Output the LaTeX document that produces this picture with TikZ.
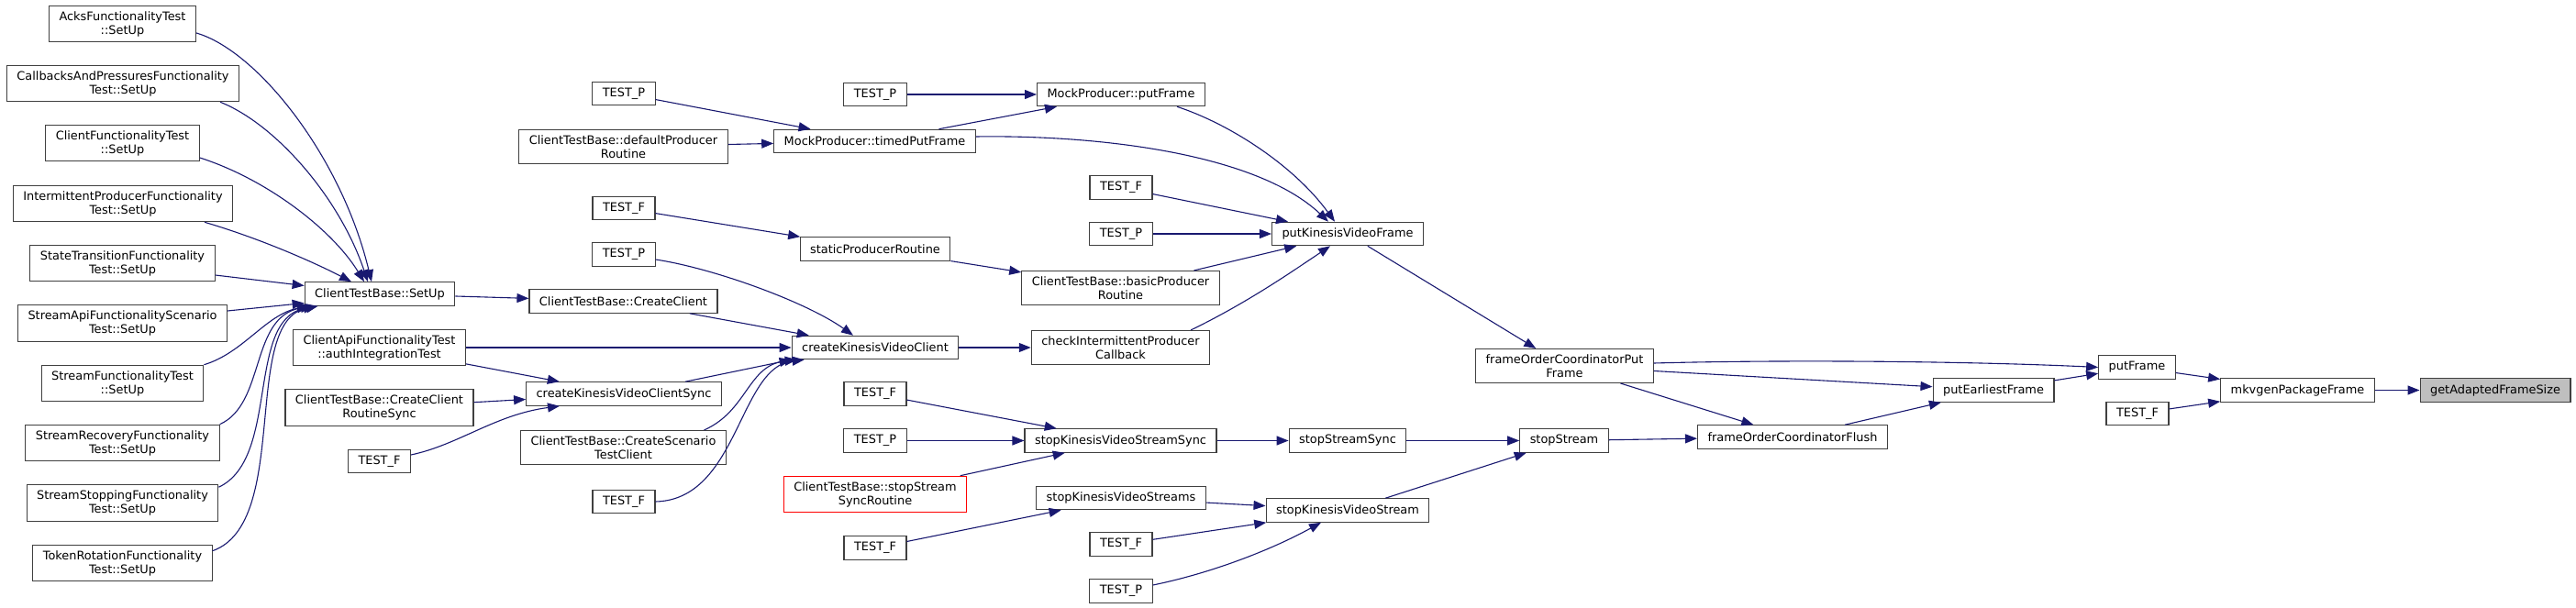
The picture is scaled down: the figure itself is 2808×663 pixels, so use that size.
\documentclass[tikz,border=0pt]{standalone}
\usepackage{fontspec}
\setmainfont{DejaVu Sans}
\usetikzlibrary{arrows.meta}
\definecolor{dxedge}{RGB}{25,25,112}
\definecolor{dxborder}{RGB}{64,64,64}
\definecolor{dxroot}{RGB}{191,191,191}
\tikzset{
    fnbox/.style={rectangle, draw=dxborder, fill=white, line width=1.1pt, align=center, inner xsep=11pt, inner ysep=6pt, minimum height=25.5pt, font=\fontsize{12.9}{15}\selectfont},
    rootbox/.style={fnbox, fill=dxroot},
    undocbox/.style={fnbox, draw=red},
    callarr/.style={-{Triangle[length=13pt, width=10pt]}, line width=1.1pt, color=dxedge}
}

\begin{document}
\begin{tikzpicture}[x=1pt, y=-1pt]
    \useasboundingbox (0,0) rectangle (2808,663);
    % column 1: test fixtures
    \node[fnbox] (acks) at (133.5,26) {AcksFunctionalityTest\\::SetUp};
    \node[fnbox] (callbacks) at (134,91) {CallbacksAndPressuresFunctionality\\Test::SetUp};
    \node[fnbox] (clientfunc) at (133.5,156) {ClientFunctionalityTest\\::SetUp};
    \node[fnbox] (intermittent) at (134,222) {IntermittentProducerFunctionality\\Test::SetUp};
    \node[fnbox] (statetrans) at (133.5,287) {StateTransitionFunctionality\\Test::SetUp};
    \node[fnbox] (streamapi) at (133.5,352.5) {StreamApiFunctionalityScenario\\Test::SetUp};
    \node[fnbox] (streamfunc) at (133.5,418) {StreamFunctionalityTest\\::SetUp};
    \node[fnbox] (streamrecov) at (133.5,483) {StreamRecoveryFunctionality\\Test::SetUp};
    \node[fnbox] (streamstop) at (133.5,548.5) {StreamStoppingFunctionality\\Test::SetUp};
    \node[fnbox] (tokenrot) at (133.5,614) {TokenRotationFunctionality\\Test::SetUp};
    % column 2
    \node[fnbox] (setup) at (414,320.5) {ClientTestBase::SetUp};
    \node[fnbox] (authtest) at (413.5,379) {ClientApiFunctionalityTest\\::authIntegrationTest};
    \node[fnbox] (routinesync) at (413.5,444.5) {ClientTestBase::CreateClient\\RoutineSync};
    \node[fnbox] (testfA) at (413.5,503) {TEST\_F};
    % column 3
    \node[fnbox] (testpA) at (680,102) {TEST\_P};
    \node[fnbox] (defprod) at (679.5,160) {ClientTestBase::defaultProducer\\Routine};
    \node[fnbox] (testfB) at (680,227) {TEST\_F};
    \node[fnbox] (testpB) at (680,277.5) {TEST\_P};
    \node[fnbox] (createclient) at (679.5,328.5) {ClientTestBase::CreateClient};
    \node[fnbox] (kvcsync) at (680,429.5) {createKinesisVideoClientSync};
    \node[fnbox] (scenario) at (679.5,488) {ClientTestBase::CreateScenario\\TestClient};
    \node[fnbox] (testfC) at (680,547) {TEST\_F};
    % column 4
    \node[fnbox] (testpC) at (954,103) {TEST\_P};
    \node[fnbox] (timedput) at (953.5,154) {MockProducer::timedPutFrame};
    \node[fnbox] (staticprod) at (954,271.5) {staticProducerRoutine};
    \node[fnbox] (kvclient) at (954,379) {createKinesisVideoClient};
    \node[fnbox] (testfD) at (954,429.5) {TEST\_F};
    \node[fnbox] (testpD) at (954,480.5) {TEST\_P};
    \node[undocbox] (stopsyncroutine) at (954,539) {ClientTestBase::stopStream\\SyncRoutine};
    \node[fnbox] (testfE) at (954,597.5) {TEST\_F};
    % column 5
    \node[fnbox] (mockput) at (1222,103) {MockProducer::putFrame};
    \node[fnbox] (testfF) at (1222,204.5) {TEST\_F};
    \node[fnbox] (testpF) at (1222,255) {TEST\_P};
    \node[fnbox] (basicprod) at (1221.5,314) {ClientTestBase::basicProducer\\Routine};
    \node[fnbox] (checkcb) at (1221.5,379) {checkIntermittentProducer\\Callback};
    \node[fnbox] (kvssync) at (1221.5,480.5) {stopKinesisVideoStreamSync};
    \node[fnbox] (kvstreams) at (1222,543) {stopKinesisVideoStreams};
    \node[fnbox] (testfG) at (1222,593.5) {TEST\_F};
    \node[fnbox] (testpG) at (1222,644.5) {TEST\_P};
    % columns 6 and up
    \node[fnbox] (putkvf) at (1469,255) {putKinesisVideoFrame};
    \node[fnbox] (stopstreamsync) at (1469,480.5) {stopStreamSync};
    \node[fnbox] (kvstream) at (1469,556.5) {stopKinesisVideoStream};
    \node[fnbox] (focput) at (1705.5,399) {frameOrderCoordinatorPut\\Frame};
    \node[fnbox] (stopstream) at (1705,480.5) {stopStream};
    \node[fnbox] (focflush) at (1954,476.5) {frameOrderCoordinatorFlush};
    \node[fnbox] (putearliest) at (2173,425.5) {putEarliestFrame};
    \node[fnbox] (putframe) at (2329.5,400.5) {putFrame};
    \node[fnbox] (testfH) at (2330,451) {TEST\_F};
    \node[fnbox] (mkvgen) at (2504.5,425.5) {mkvgenPackageFrame};
    \node[rootbox] (root) at (2720,425.5) {getAdaptedFrameSize};

    % fan-in to ClientTestBase::SetUp
    \draw[callarr] ([yshift=-10pt]acks.east) .. controls (280,55) and (372,170) .. ([xshift=-9pt]setup.north);
    \draw[callarr] ([xshift=106pt]callbacks.south) .. controls (300,135) and (370,215) .. ([xshift=-13pt]setup.north);
    \draw[callarr] ([yshift=-16pt]clientfunc.east) .. controls (290,195) and (362,250) .. ([xshift=-17pt]setup.north);
    \draw[callarr] ([xshift=89pt]intermittent.south) .. controls (290,262) and (350,290) .. ([xshift=-31pt]setup.north);
    \draw[callarr] ([yshift=-13pt]statetrans.east) -- ([yshift=9pt]setup.west);
    \draw[callarr] ([yshift=13.5pt]streamapi.east) -- ([yshift=-10pt]setup.west);
    \draw[callarr] (streamfunc.north east) .. controls (265,385) and (290,343) .. ([xshift=5pt]setup.south west);
    \draw[callarr] (streamrecov.north east) .. controls (290,440) and (272,345) .. ([xshift=9pt]setup.south west);
    \draw[callarr] ([yshift=-3pt]streamstop.north east) .. controls (305,500) and (268,350) .. ([xshift=12pt]setup.south west);
    \draw[callarr] ([yshift=-7pt]tokenrot.north east) .. controls (318,570) and (262,350) .. ([xshift=15pt]setup.south west);

    % client creation
    \draw[callarr] (setup) -- (createclient);
    \draw[callarr] (createclient) -- (kvclient);
    \draw[callarr] (authtest) -- (kvclient);
    \draw[callarr] (authtest) -- (kvcsync);
    \draw[callarr] (routinesync) -- (kvcsync);
    \draw[callarr] ([yshift=7pt]testfA.east) .. controls (500,485) and (540,452) .. ([xshift=-70pt]kvcsync.south);
    \draw[callarr] ([xshift=67pt]kvcsync.north) -- (kvclient.south west);
    \draw[callarr] ([xshift=88pt]scenario.north) .. controls (815,448) and (815,398) .. ([xshift=6pt]kvclient.south west);
    \draw[callarr] (testfC.east) .. controls (805,545) and (805,400) .. ([xshift=14pt]kvclient.south west);
    \draw[callarr] ([yshift=-5.5pt]testpB.east) .. controls (780,293) and (880,330) .. ([xshift=-24pt]kvclient.north);
    \draw[callarr] (kvclient) -- (checkcb);

    % producer paths
    \draw[callarr] (testpA) -- (timedput);
    \draw[callarr] (defprod) -- (timedput);
    \draw[callarr] (testfB) -- (staticprod);
    \draw[callarr] (testpC) -- (mockput);
    \draw[callarr] (timedput) -- (mockput);
    \draw[callarr] ([yshift=5pt]timedput.east) .. controls (1200,147) and (1370,168) .. ([xshift=-21pt]putkvf.north);
    \draw[callarr] ([xshift=61pt]mockput.south) .. controls (1340,135) and (1410,180) .. ([xshift=-14pt]putkvf.north);
    \draw[callarr] (testfF) -- (putkvf);
    \draw[callarr] (testpF) -- (putkvf);
    \draw[callarr] (staticprod) -- (basicprod);
    \draw[callarr] (basicprod) -- (putkvf);
    \draw[callarr] ([xshift=76.5pt]checkcb.north) .. controls (1360,330) and (1410,295) .. ([xshift=-19pt]putkvf.south);
    \draw[callarr] (putkvf) -- (focput);

    % stop paths
    \draw[callarr] (testfD) -- (kvssync);
    \draw[callarr] (testpD) -- (kvssync);
    \draw[callarr] (stopsyncroutine) -- (kvssync);
    \draw[callarr] (kvssync) -- (stopstreamsync);
    \draw[callarr] (stopstreamsync) -- (stopstream);
    \draw[callarr] (testfE) -- (kvstreams);
    \draw[callarr] (kvstreams) -- (kvstream);
    \draw[callarr] (testfG) -- (kvstream);
    \draw[callarr] ([yshift=6.5pt]testpG.east) .. controls (1320,625) and (1385,600) .. ([xshift=-29pt]kvstream.south);
    \draw[callarr] (kvstream) -- (stopstream);

    % frame ordering
    \draw[callarr] (stopstream) -- (focflush);
    \draw[callarr] (focput) -- (focflush);
    \draw[callarr] (focput) -- (putearliest);
    \draw[callarr] ([yshift=3pt]focput.east) .. controls (1950,392) and (2150,394) .. (putframe.west);
    \draw[callarr] (focflush) -- (putearliest);
    \draw[callarr] (putearliest) -- (putframe);
    \draw[callarr] (putframe) -- (mkvgen);
    \draw[callarr] (testfH) -- (mkvgen);
    \draw[callarr] (mkvgen) -- (root);
\end{tikzpicture}
\end{document}
